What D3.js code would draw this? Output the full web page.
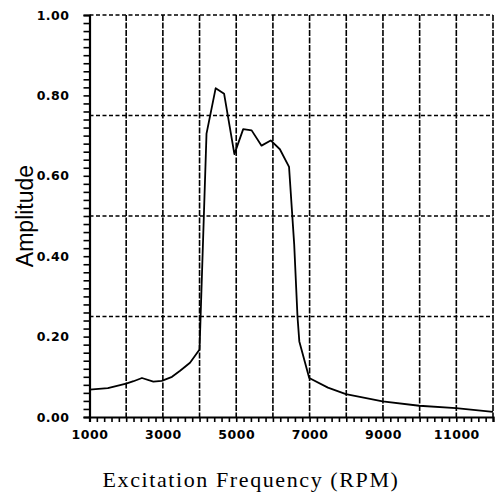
<!DOCTYPE html>
<html>
<head>
<meta charset="utf-8">
<script src="https://cdn.jsdelivr.net/npm/d3@7"></script>
<style>
  body { margin: 0; background: #fff; }
  svg { display: block; }
</style>
</head>
<body>
<svg width="496" height="496"></svg>
<script>
// excitation frequency (RPM) and amplitude
var rpm = [1000, 1500, 2000, 2200, 2430, 2740, 2970, 3250, 3470, 3740, 4000,
           4190, 4440, 4670, 4950, 5190, 5420, 5690, 5940, 6190, 6440,
           6580, 6670, 6720, 6990, 7500, 7990, 8990, 9990, 10990, 12000];
var amp = [0.068, 0.072, 0.083, 0.089, 0.097, 0.088, 0.090, 0.100, 0.115, 0.135, 0.168,
           0.705, 0.818, 0.804, 0.654, 0.716, 0.713, 0.675, 0.688, 0.666, 0.622,
           0.430, 0.250, 0.188, 0.097, 0.073, 0.057, 0.039, 0.028, 0.022, 0.013];

var xTicks = [1000, 3000, 5000, 7000, 9000, 11000];
var xGrid = [2000, 3000, 4000, 5000, 6000, 7000, 8000, 9000, 10000, 11000, 12000];
var yTicks = [0, 0.2, 0.4, 0.6, 0.8, 1.0];
var yGrid = [0.25, 0.5, 0.75, 1.0];

(function() {
    var data = rpm.map(function(r, i) { return {rpm: r, amp: amp[i]}; });

    var svg = d3.select("svg");
    var plotLeft = 89.5, plotRight = 493, plotTop = 15, plotBottom = 417;

    var x = d3.scaleLinear().domain([1000, 12000]).range([plotLeft, plotRight]);
    var y = d3.scaleLinear().domain([0, 1]).range([plotBottom, plotTop]);

    // dashed grid
    svg.append("g").selectAll("line")
        .data(xGrid)
        .enter().append("line")
        .attr("x1", function(d) { return x(d); })
        .attr("x2", function(d) { return x(d); })
        .attr("y1", plotTop)
        .attr("y2", plotBottom)
        .attr("stroke", "#000")
        .attr("stroke-width", 1.6)
        .attr("stroke-dasharray", "6,1.5");

    svg.append("g").selectAll("line")
        .data(yGrid)
        .enter().append("line")
        .attr("x1", plotLeft)
        .attr("x2", plotRight)
        .attr("y1", function(d) { return y(d); })
        .attr("y2", function(d) { return y(d); })
        .attr("stroke", "#000")
        .attr("stroke-width", 1.6)
        .attr("stroke-dasharray", "4,2.5");

    // minor ticks
    var yMinor = d3.axisLeft(y).tickValues(d3.range(0, 1.001, 0.02)).tickSize(6).tickFormat("");
    var xMinor = d3.axisBottom(x).tickValues(d3.range(1000, 12001, 200)).tickSize(5).tickFormat("");

    svg.append("g")
        .attr("transform", "translate(" + plotLeft + ",0)")
        .call(yMinor)
        .call(function(g) {
            g.select(".domain").attr("stroke-width", 2.2);
            g.selectAll(".tick line").attr("stroke-width", 1.6);
        });

    svg.append("g")
        .attr("transform", "translate(0," + plotBottom + ")")
        .call(xMinor)
        .call(function(g) {
            g.select(".domain").attr("stroke-width", 2.2);
            g.selectAll(".tick line").attr("stroke-width", 1.6);
        });

    function labelStyle(g) {
        g.select(".domain").remove();
        g.selectAll("text")
            .style("font-family", "DejaVu Sans")
            .style("font-weight", "bold")
            .style("font-size", "12.5px")
            .style("letter-spacing", "0.5px")
            .attr("fill", "#000");
    }

    // tick labels
    svg.append("g")
        .attr("transform", "translate(" + plotLeft + ",0)")
        .call(d3.axisLeft(y).tickValues(yTicks).tickSize(0).tickPadding(20).tickFormat(d3.format(".2f")))
        .call(labelStyle);

    svg.append("g")
        .attr("transform", "translate(0," + plotBottom + ")")
        .call(d3.axisBottom(x).tickValues(xTicks).tickSize(0).tickPadding(13).tickFormat(d3.format("d")))
        .call(labelStyle);

    // curve
    var line = d3.line()
        .x(function(d) { return x(d.rpm); })
        .y(function(d) { return y(d.amp); });

    svg.append("path")
        .datum(data)
        .attr("fill", "none")
        .attr("stroke", "#000")
        .attr("stroke-width", 1.8)
        .attr("stroke-linejoin", "round")
        .attr("d", line);

    // axis titles
    svg.append("text")
        .attr("transform", "translate(33,216) rotate(-90)")
        .attr("text-anchor", "middle")
        .style("font-family", "Liberation Sans")
        .style("font-size", "23px")
        .text("Amplitude");

    svg.append("text")
        .attr("x", 251)
        .attr("y", 487)
        .attr("text-anchor", "middle")
        .style("font-family", "Liberation Serif")
        .style("font-size", "22px")
        .style("letter-spacing", "1.6px")
        .text("Excitation Frequency (RPM)");
})();
</script>
</body>
</html>
